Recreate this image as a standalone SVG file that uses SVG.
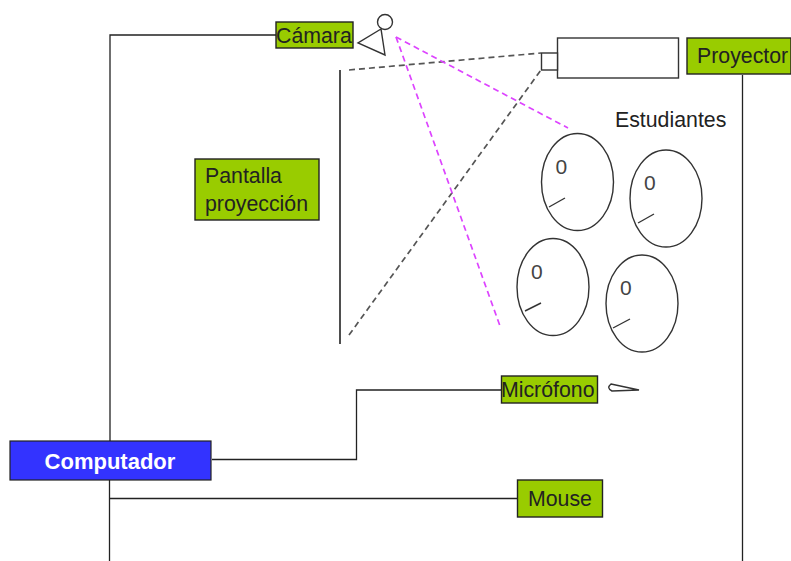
<svg xmlns="http://www.w3.org/2000/svg" width="791" height="561" viewBox="0 0 791 561">
<defs><style>
.l{fill:none;stroke:#222;stroke-width:1.3}
.g{fill:#99cc00;stroke:#222;stroke-width:1.4}
.o{fill:none;stroke:#333;stroke-width:1.4}
.w{fill:#fff;stroke:#333;stroke-width:1.4}
.t{font-family:"Liberation Sans",Arial,sans-serif;font-size:21.300px;fill:#222}
.z{font-family:"Liberation Sans",Arial,sans-serif;font-size:21px;fill:#444}
.d{fill:none;stroke:#555;stroke-width:1.700;stroke-dasharray:6 4}
.m{fill:none;stroke:#dd44ff;stroke-width:1.700;stroke-dasharray:6 4}
</style></defs>
<rect width="791" height="561" fill="#fff"/>
<g id="connectors">
<path class="l" d="M110 441V35H276"/>
<path class="l" d="M212 459.500H356.500V390H501"/>
<path class="l" d="M109.500 480V561"/>
<path class="l" d="M109.500 498.500H517"/>
<path class="l" d="M742.500 75V561"/>
<path class="d" d="M349 70L541 53"/>
<path class="d" d="M349 335L541 70"/>
<path class="m" d="M396 37L568 128"/>
<path class="m" d="M396 37L500 326"/>
</g>
<g id="camara">
<rect class="g" x="276" y="22" width="77" height="26"/>
<text class="t" x="276" y="43">Cámara</text>
<circle class="w" cx="385" cy="22" r="7.500"/>
<path class="o" d="M381 29L358 43L385 55Z"/>
</g>
<g id="proyector">
<rect class="g" x="687" y="38" width="104" height="36"/>
<text class="t" x="697" y="63">Proyector</text>
</g>
<g id="proyector-device">
<rect class="w" x="557.500" y="38" width="121" height="40"/>
<rect class="w" x="541.500" y="53" width="16" height="17"/>
</g>
<g id="pantalla">
<path class="l" d="M340 70V344" style="stroke-width:1.600"/>
</g>
<g id="pantalla-label">
<rect class="g" x="195" y="159" width="124" height="61"/>
<text class="t" x="205" y="183">Pantalla</text>
<text class="t" x="205" y="211">proyección</text>
</g>
<g id="estudiantes">
<text class="t" x="615" y="127">Estudiantes</text>
<g id="estudiante-1"><ellipse class="o" cx="577.500" cy="182" rx="36" ry="48.500"/><text class="z" x="555.500" y="174">0</text><path class="o" d="M549 207L565 198"/></g>
<g id="estudiante-2"><ellipse class="o" cx="666" cy="198.500" rx="36" ry="48.500"/><text class="z" x="644" y="190">0</text><path class="o" d="M638 223L654 214"/></g>
<g id="estudiante-3"><ellipse class="o" cx="553" cy="287" rx="36" ry="48.500"/><text class="z" x="531" y="279">0</text><path class="o" d="M525 311L541 303"/></g>
<g id="estudiante-4"><ellipse class="o" cx="642" cy="303.500" rx="36" ry="48.500"/><text class="z" x="620" y="295">0</text><path class="o" d="M613 328L630 319"/></g>
</g>
<g id="microfono">
<rect class="g" x="501.500" y="376" width="96" height="27"/>
<text class="t" x="501" y="397">Micrófono</text>
<path class="o" d="M611 384L639 390L612 391Q606 388 611 384Z"/>
</g>
<g id="computador">
<rect x="10" y="441" width="201" height="39" fill="#3333ff" stroke="#222" stroke-width="1.200"/>
<text x="110" y="469" text-anchor="middle" style="font-family:'Liberation Sans',Arial,sans-serif;font-size:22px;font-weight:bold;fill:#fff">Computador</text>
</g>
<g id="mouse">
<rect class="g" x="517.500" y="480" width="85" height="37"/>
<text class="t" x="528" y="506">Mouse</text>
</g>
</svg>
